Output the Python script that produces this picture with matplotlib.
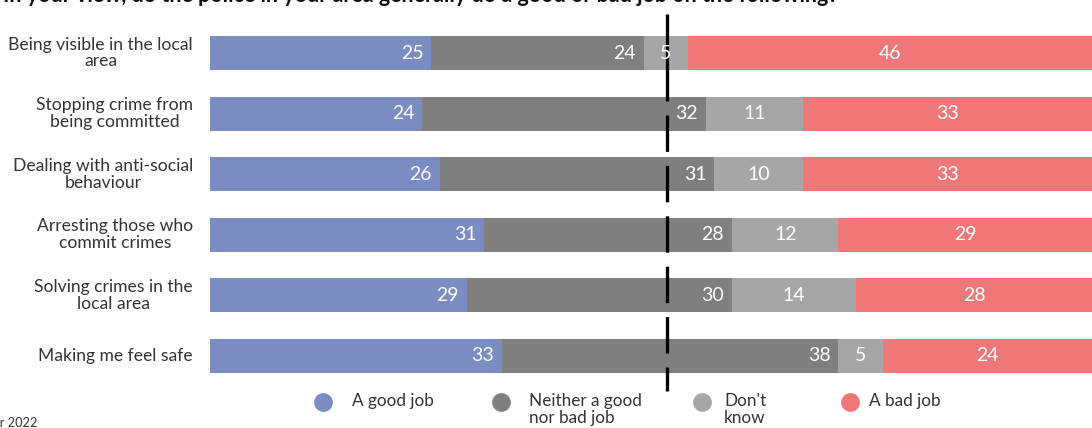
import matplotlib.pyplot as plt
from matplotlib.lines import Line2D
import numpy as np

plt.rcParams['font.family'] = ['Lato', 'DejaVu Sans']

statements = ["Being visible in the local\narea",
              "Stopping crime from\nbeing committed",
              "Dealing with anti-social\nbehaviour",
              "Arresting those who\ncommit crimes",
              "Solving crimes in the\nlocal area",
              "Making me feel safe"]

good_job = [25, 24, 26, 31, 29, 33]
neither = [24, 32, 31, 28, 30, 38]
dont_know = [5, 11, 10, 12, 14, 5]
bad_job = [46, 33, 33, 29, 28, 24]

legend_labels = ["A good job", "Neither a good\nnor bad job", "Don't\nknow", "A bad job"]
colours = ["#7B8CC3", "#7F7F7F", "#A6A6A6", "#F07777"]

W, H = 1092, 428
fig = plt.figure(figsize=(W / 100, H / 100), dpi=100)

# axes run from the label column to the right edge, bars get cut there
ax = fig.add_axes([210 / W, 1 - 391 / H, 882 / W, 377 / H])
x_max = 882 / 8.85
ax.set_xlim(0, x_max)
ax.set_ylim(5.578, -0.644)
ax.axis('off')

series = [good_job, neither, dont_know, bad_job]
y = np.arange(len(statements))
left = np.zeros(len(statements))
for k, vals in enumerate(series):
    vals = np.array(vals, dtype=float)
    ax.barh(y, vals, left=left, height=0.56, color=colours[k], linewidth=0)
    for i, v in enumerate(vals):
        if k < 2:
            # first two series labelled at the inner end
            ax.text(left[i] + v - 0.9, y[i], f"{v:.0f}", ha='right', va='center',
                    color='white', fontsize=14)
        else:
            right = min(left[i] + v, x_max)
            ax.text((left[i] + right) / 2, y[i], f"{v:.0f}", ha='center', va='center',
                    color='white', fontsize=14)
    left += vals

for i, s in enumerate(statements):
    ax.text(-17 / 8.85, y[i], s, ha='right', va='center', multialignment='center',
            fontsize=12.6, color='#333333', linespacing=1.05)

# dashed midpoint marker, dash lengths given in pixels
lw_px = 3.3
on_off = [24, 14] + [36.4, 14] * 5 + [87, 1000]
dash = [d / lw_px for d in on_off]
ax.axvline((667 - 210) / 8.85, ymin=0, ymax=1, color='black', linewidth=lw_px * 0.72,
           linestyle=(0, dash), clip_on=False)

# legend drawn by hand
dot_x = [323, 501, 702, 850]
text_x = [352, 529, 724, 869]
for k in range(4):
    fig.add_artist(Line2D([dot_x[k] / W], [1 - 402 / H], marker='o', markersize=12.5,
                          color=colours[k], linestyle='none', transform=fig.transFigure))
    fig.text(text_x[k] / W, 1 - 393 / H, legend_labels[k], ha='left', va='top',
             fontsize=12.3, color='#333333', linespacing=1.1)

fig.text(838 / W, 1 - 2.5 / H, "In your view, do the police in your area generally do a good or bad job on the following?",
         ha='right', va='baseline', fontsize=15.5, fontweight='bold', color='#111111')
fig.text(38 / W, 1 - 427 / H, "October 2022", ha='right', va='baseline', fontsize=9.2, color='#333333')

plt.savefig("out.png", dpi=100)
